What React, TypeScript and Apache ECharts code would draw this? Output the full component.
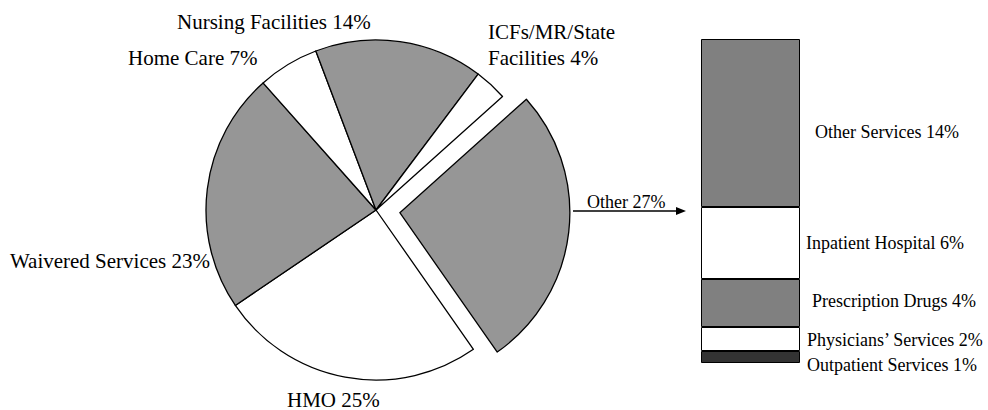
import React, { useEffect, useRef } from "react";
import * as echarts from "echarts";

// Pie: spending shares, clockwise from the exploded "Other" slice
const pieNames = ["Other", "HMO", "Waivered Services", "Home Care", "Nursing Facilities", "ICFs/MR/State\nFacilities"];
// percentages printed on the labels
const piePct = [27, 25, 23, 7, 14, 4];
// slice sizes as drawn in the picture (measured angles, in %)
const pieShares = [26.9, 25.2, 22.9, 5.8, 16.0, 3.1];
const pieColors = ["#969696", "#ffffff", "#969696", "#ffffff", "#969696", "#ffffff"];

// Breakdown of "Other" (stacked from the bottom)
const otherNames = ["Outpatient Services", "Physicians\u2019 Services", "Prescription Drugs", "Inpatient Hospital", "Other Services"];
const otherValues = [1, 2, 4, 6, 14];
const otherColors = ["#333333", "#ffffff", "#808080", "#ffffff", "#808080"];

const FONT = "'Liberation Serif', 'Times New Roman', serif";

// label anchor positions for the pie labels
const pieLabelPos: Record<number, { x: number; y: number; align: string }> = {
  1: { x: 287, y: 399.5, align: "left" },
  2: { x: 210, y: 260.5, align: "right" },
  3: { x: 128, y: 57.5, align: "left" },
  4: { x: 177, y: 21.5, align: "left" },
  5: { x: 488, y: 45, align: "left" },
};
const barLabelOffsets = [[1, 8], [1, 1], [6, -2], [0, 0], [9, 9]];

export default function App() {
  const ref = useRef<HTMLDivElement>(null);
  useEffect(() => {
    document.body.style.margin = "0";
    const chart = echarts.init(ref.current!, undefined, { renderer: "svg" });
    const option: any = {
      animation: false,
      backgroundColor: "#ffffff",
      textStyle: { fontFamily: FONT },
      grid: { left: 701, top: 39, width: 99, height: 324 },
      xAxis: { type: "category", data: ["Other"], show: false },
      yAxis: { type: "value", min: 0, max: 27, show: false },
      series: [
        {
          type: "pie",
          center: [376, 210],
          radius: 170,
          startAngle: 41.9,
          clockwise: true,
          selectedMode: "single",
          selectedOffset: 24,
          emphasis: { disabled: true },
          itemStyle: { borderColor: "#000", borderWidth: 1.3 },
          label: {
            show: true,
            position: "outside",
            formatter: (p: any) => `${p.name} ${piePct[p.dataIndex]}%`,
            color: "#000",
            fontFamily: FONT,
            fontSize: 21,
            lineHeight: 26,
            overflow: "none",
            alignTo: "none",
          },
          labelLine: { show: false },
          labelLayout: (params: any) => {
            const pos = pieLabelPos[params.dataIndex];
            if (!pos) return {};
            return { x: pos.x, y: pos.y, align: pos.align, verticalAlign: "middle" };
          },
          data: pieNames.map((n, i) => ({
            name: n,
            value: pieShares[i],
            selected: i === 0,
            itemStyle: { color: pieColors[i] },
            label: i === 0 ? { show: false } : undefined,
          })),
        },
        ...otherNames.map((n, i) => ({
          type: "bar",
          name: n,
          stack: "other",
          barWidth: "100%",
          data: [otherValues[i]],
          itemStyle: { color: otherColors[i], borderColor: "#000", borderWidth: 1 },
          emphasis: { disabled: true },
          label: {
            show: true,
            position: "right",
            distance: 6,
            offset: barLabelOffsets[i],
            formatter: `${n} ${otherValues[i]}%`,
            color: "#000",
            fontFamily: FONT,
            fontSize: 18,
          },
        })),
      ],
      graphic: [
        {
          type: "text",
          x: 587,
          y: 201.5,
          style: {
            text: `${pieNames[0]} ${piePct[0]}%`,
            fill: "#000",
            font: `18px ${FONT}`,
            textAlign: "left",
            textVerticalAlign: "middle",
          },
        },
        {
          type: "line",
          shape: { x1: 573, y1: 211, x2: 678, y2: 211 },
          style: { stroke: "#000", lineWidth: 1.5 },
        },
        {
          type: "polygon",
          shape: { points: [[676, 207], [686, 211], [676, 215]] },
          style: { fill: "#000" },
        },
      ],
    };
    chart.setOption(option);
    return () => chart.dispose();
  }, []);
  return <div ref={ref} style={{ width: 988, height: 410 }} />;
}
